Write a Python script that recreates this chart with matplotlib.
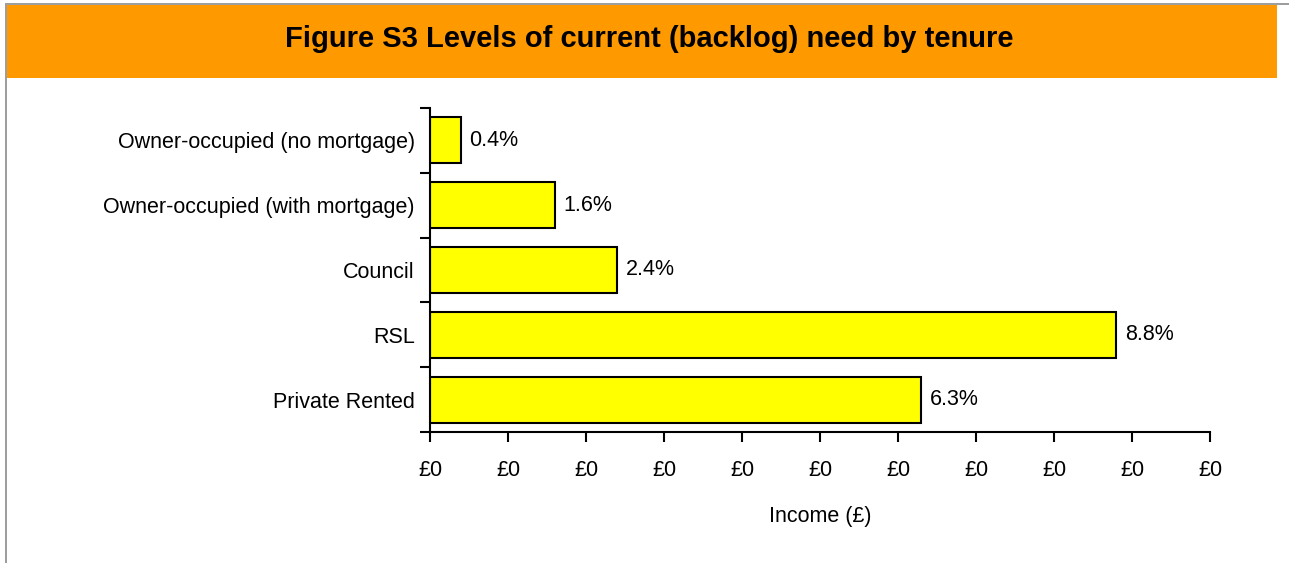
import matplotlib
matplotlib.use("Agg")
import matplotlib.pyplot as plt
from matplotlib.patches import Rectangle
from matplotlib.ticker import FixedLocator, FuncFormatter

plt.rcParams['font.family'] = ['Liberation Sans', 'DejaVu Sans']

# Backlog need by tenure (percent of households)
tenures = ['Owner-occupied (no mortgage)', 'Owner-occupied (with mortgage)',
           'Council', 'RSL', 'Private Rented']
need_pct = [0.4, 1.6, 2.4, 8.8, 6.3]
x_ticks = list(range(0, 11))

W, H = 1289, 563
fig = plt.figure(figsize=(W / 100, H / 100), dpi=100)

# grey frame and orange header band
fig.patches.append(Rectangle((5 / W, 0), 2 / W, 1 - 3 / H, transform=fig.transFigure,
                             facecolor='#9e9e9e', edgecolor='none'))
fig.patches.append(Rectangle((5 / W, 1 - 5 / H), 1 - 5 / W, 2 / H, transform=fig.transFigure,
                             facecolor='#9e9e9e', edgecolor='none'))
fig.patches.append(Rectangle((7 / W, 1 - 78 / H), 1270 / W, 73 / H, transform=fig.transFigure,
                             facecolor='#ff9900', edgecolor='none'))
fig.text(649 / W, 1 - 39 / H, 'Figure S3 Levels of current (backlog) need by tenure',
         ha='center', va='center', fontsize=21, fontweight='bold')

ax = fig.add_axes([430 / W, 1 - 432 / H, 780 / W, 324 / H])
y = list(range(len(tenures)))
ax.barh(y, need_pct, height=0.71, color='#ffff00', edgecolor='black', linewidth=1.5)
for yi, v in zip(y, need_pct):
    ax.annotate(f'{v:.1f}%', (v, yi), xytext=(6, 0), textcoords='offset points',
                va='center', ha='left', fontsize=15.5)

ax.set_ylim(len(tenures) - 0.5, -0.5)
ax.set_xlim(0, 10)
ax.set_yticks(y)
ax.set_yticklabels(tenures)
ax.yaxis.set_minor_locator(FixedLocator([i - 0.5 for i in range(len(tenures) + 1)]))
ax.tick_params(axis='y', which='major', length=0, pad=11, labelsize=15.5)
ax.tick_params(axis='y', which='minor', length=7, width=1.5)
ax.set_xticks(x_ticks)
# the source workbook formatted this axis as currency, so every tick reads £0
ax.xaxis.set_major_formatter(FuncFormatter(lambda v, p: '£0'))
ax.tick_params(axis='x', length=7.5, width=1.5, pad=13, labelsize=15.5)
ax.set_xlabel('Income (£)', fontsize=15.5, labelpad=18)

for side in ['top', 'right']:
    ax.spines[side].set_visible(False)
for side in ['left', 'bottom']:
    ax.spines[side].set_linewidth(1.5)

fig.savefig('out.png', dpi=100)
